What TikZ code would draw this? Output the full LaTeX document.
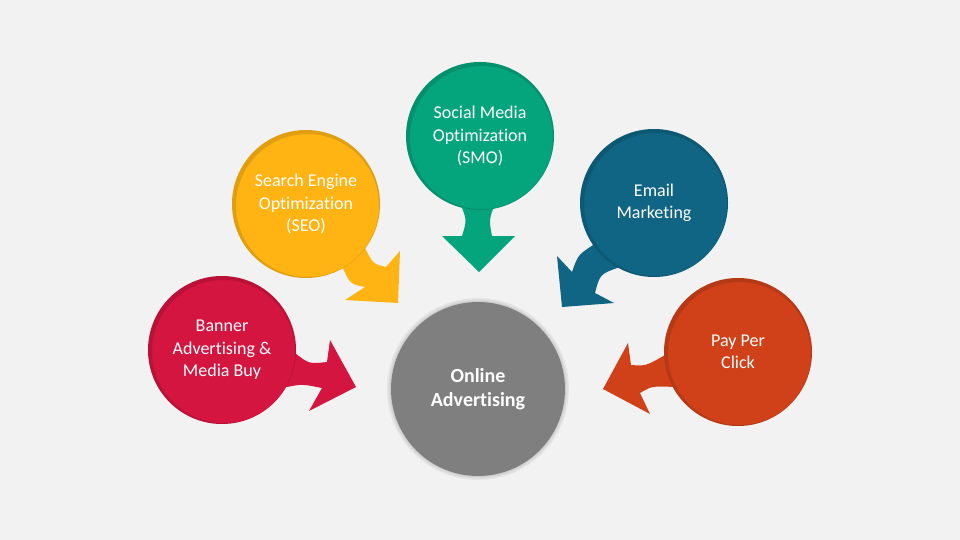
\documentclass[tikz,border=0pt]{standalone}
\usepackage{fontspec}
\setmainfont{Carlito}[RawFeature={-liga;-dlig;-clig;-calt}]
\usetikzlibrary{calc}
\definecolor{bgGray}{HTML}{F2F2F2}
\definecolor{hubGray}{HTML}{7F7F7F}
\definecolor{bannerRed}{HTML}{D4153F}
\definecolor{seoYellow}{HTML}{FFB414}
\definecolor{smoGreen}{HTML}{04A57C}
\definecolor{emailTeal}{HTML}{0F6583}
\definecolor{ppcOrange}{HTML}{D0411A}

\begin{document}
\begin{tikzpicture}[x=1pt,y=-1pt,
  bubble/.style={circle,minimum size=148pt,inner sep=0pt,align=center,text=white,
    font=\fontsize{18}{22.5}\selectfont,
    path picture={\draw[black,opacity=0.12,line width=5pt]
      ([shift={(1.5,1.5)}]path picture bounding box.center) circle (74pt);}},
  hub/.style={circle,minimum size=174pt,inner sep=0pt,align=center,text=white,
    fill=hubGray,font=\bfseries\fontsize{20}{23.5}\selectfont}]
\fill[bgGray] (0,0) rectangle (960,540);
\useasboundingbox (0,0) rectangle (960,540);

% Centre
\foreach \r in {88,89.5,91} \fill[black,opacity=0.05] (478,389) circle (\r pt);
\node[hub] (online) at (478,389) {Online\\Advertising};

% Banner advertising
\fill[bannerRed] (280,360) -- (295,353) .. controls (309,364) .. (327,362) -- (330,340)
  -- (356,387) -- (309,411) -- (322,388) .. controls (302,384) .. (287,387) -- (275,380) -- cycle;
\node[bubble,fill=bannerRed] (banner) at (222,350) {Banner\\Advertising \&\\Media Buy};

% SEO
\fill[seoYellow] (355,236) -- (364,246) .. controls (373,264) .. (386,267) -- (400,251)
  -- (398,303) -- (345,300) -- (365,287) .. controls (350,284) .. (342,266) -- (335,258) -- cycle;
\node[bubble,fill=seoYellow] (seo) at (306,204) {Search Engine\\Optimization\\(SEO)};

% SMO
\fill[smoGreen] (462,190) -- (460,203) .. controls (467,220) .. (462,236) -- (442,236)
  -- (479,272) -- (515,236) -- (492,236) .. controls (489,220) .. (495,203) -- (497,190) -- cycle;
\node[bubble,fill=smoGreen] (smo) at (480,136) {Social Media\\Optimization\\(SMO)};

% Email marketing
\fill[emailTeal] (600,236) -- (593,245) .. controls (578,255) .. (572,272) -- (557,256)
  -- (562,307) -- (614,303) -- (595,293) .. controls (600,274) .. (620,267) -- (625,255) -- cycle;
\node[bubble,fill=emailTeal] (email) at (654,203) {Email\\Marketing};

% Pay per click
\fill[ppcOrange] (678,348) -- (665,355) .. controls (646,366) .. (631,365) -- (628,343)
  -- (603,389) -- (650,414) -- (640,393) .. controls (652,386) .. (675,387) -- (685,380) -- cycle;
\node[bubble,fill=ppcOrange] (ppc) at (738,352) {Pay Per\\Click};
\end{tikzpicture}
\end{document}
